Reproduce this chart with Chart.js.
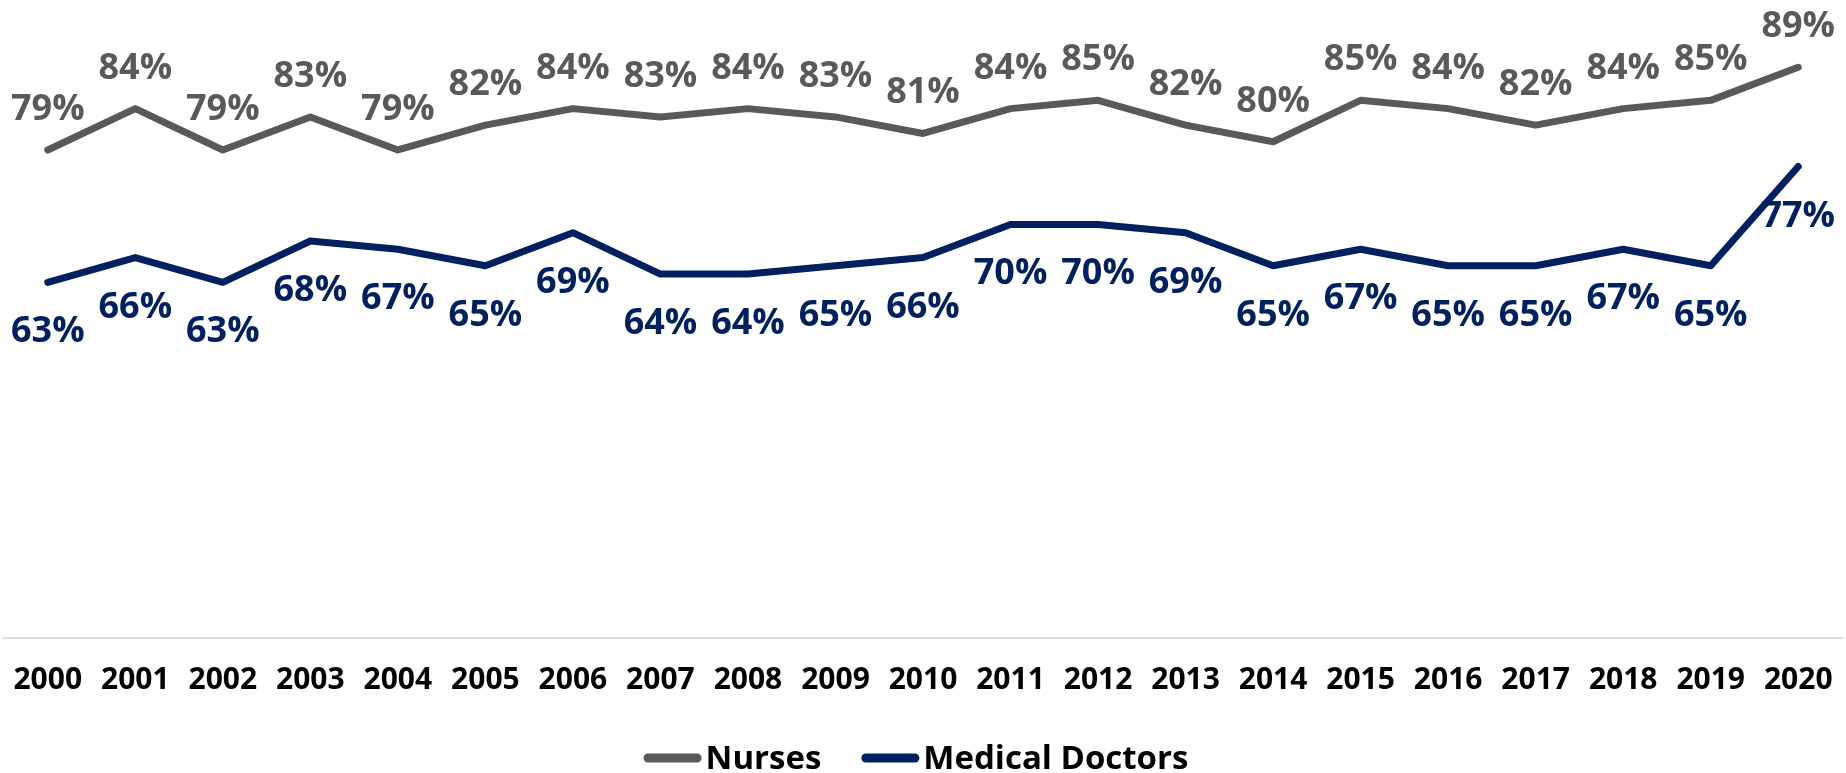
<!DOCTYPE html>
<html>
<head>
<meta charset="utf-8">
<title>Nurses and Medical Doctors</title>
<script src="https://cdn.jsdelivr.net/npm/chart.js@4/dist/chart.umd.min.js"></script>
<style>
    html, body { margin: 0; padding: 0; background: #fff; }
    #wrap { width: 1846px; height: 773px; }
</style>
</head>
<body>
<div id="wrap"><canvas id="trendChart"></canvas></div>
<script>
// Yearly shares (%) for both professions
const years = ['2000', '2001', '2002', '2003', '2004', '2005', '2006', '2007', '2008', '2009', '2010',
    '2011', '2012', '2013', '2014', '2015', '2016', '2017', '2018', '2019', '2020'];
const nursesValues = [79, 84, 79, 83, 79, 82, 84, 83, 84, 83, 81, 84, 85, 82, 80, 85, 84, 82, 84, 85, 89];
const doctorsValues = [63, 66, 63, 68, 67, 65, 69, 64, 64, 65, 66, 70, 70, 69, 65, 67, 65, 65, 67, 65, 77];

const FONT = '"Open Sans", "Noto Sans", sans-serif';
const GREY = '#595959';
const NAVY = '#002060';

// Value labels: nurses above the line, doctors below it
const valueLabels = {
    id: 'valueLabels',
    afterDatasetsDraw(chart) {
        const ctx = chart.ctx;
        ctx.save();
        ctx.font = 'bold 36px ' + FONT;
        ctx.textAlign = 'center';
        ctx.textBaseline = 'alphabetic';
        chart.data.datasets.forEach((ds, i) => {
            const meta = chart.getDatasetMeta(i);
            ctx.fillStyle = ds.borderColor;
            meta.data.forEach((pt, j) => {
                const y = ds.labelSide === 'above' ? pt.y - 30 : pt.y + 60;
                ctx.fillText(ds.data[j] + '%', pt.x, y);
            });
        });
        ctx.restore();
    }
};

// Legend drawn as a short thick line followed by the series name
const lineLegend = {
    id: 'lineLegend',
    afterDraw(chart) {
        const ctx = chart.ctx;
        const lineLen = 58, gap = 4, itemGap = 40;
        ctx.save();
        ctx.font = 'bold 33px ' + FONT;
        const items = chart.data.datasets.map(ds => ({
            text: ds.label,
            color: ds.borderColor,
            width: ctx.measureText(ds.label).width
        }));
        let total = 0;
        items.forEach((it, i) => {
            total += lineLen + gap + it.width + (i > 0 ? itemGap : 0);
        });
        let x = chart.width / 2 - 7 - total / 2;
        const yLine = 758;
        items.forEach(it => {
            ctx.strokeStyle = it.color;
            ctx.lineWidth = 9;
            ctx.lineCap = 'round';
            ctx.beginPath();
            ctx.moveTo(x + 4.5, yLine);
            ctx.lineTo(x + lineLen - 4.5, yLine);
            ctx.stroke();
            ctx.fillStyle = '#000';
            ctx.textAlign = 'left';
            ctx.textBaseline = 'alphabetic';
            ctx.fillText(it.text, x + lineLen + gap, 769);
            x += lineLen + gap + it.width + itemGap;
        });
        ctx.restore();
    }
};

const ctx = document.getElementById('trendChart').getContext('2d');
new Chart(ctx, {
    type: 'line',
    data: {
        labels: years,
        datasets: [{
            label: 'Nurses',
            data: nursesValues,
            borderColor: GREY,
            backgroundColor: GREY,
            labelSide: 'above'
        }, {
            label: 'Medical Doctors',
            data: doctorsValues,
            borderColor: NAVY,
            backgroundColor: NAVY,
            labelSide: 'below'
        }]
    },
    options: {
        responsive: true,
        maintainAspectRatio: false,
        animation: false,
        layout: {
            padding: { top: 59, left: 4, right: 4, bottom: 75 }
        },
        elements: {
            line: {
                borderWidth: 7,
                borderCapStyle: 'round',
                borderJoinStyle: 'round',
                tension: 0
            },
            point: { radius: 0, hoverRadius: 0 }
        },
        datasets: {
            line: { clip: false }
        },
        scales: {
            x: {
                offset: true,
                grid: { display: false, drawTicks: false },
                border: { display: true, color: '#d9d9d9', width: 2 },
                ticks: {
                    color: '#000',
                    font: { family: FONT, size: 30, weight: 'bold' },
                    padding: 24,
                    maxRotation: 0,
                    autoSkip: false
                },
                afterFit(scale) {
                    // no extra room for edge labels, the offset already covers them
                    scale.paddingLeft = 0;
                    scale.paddingRight = 0;
                    scale.height = 60;
                }
            },
            y: {
                display: false,
                min: 20,
                max: 90
            }
        },
        plugins: {
            legend: { display: false },
            tooltip: { enabled: false }
        }
    },
    plugins: [valueLabels, lineLegend]
});
</script>
</body>
</html>
